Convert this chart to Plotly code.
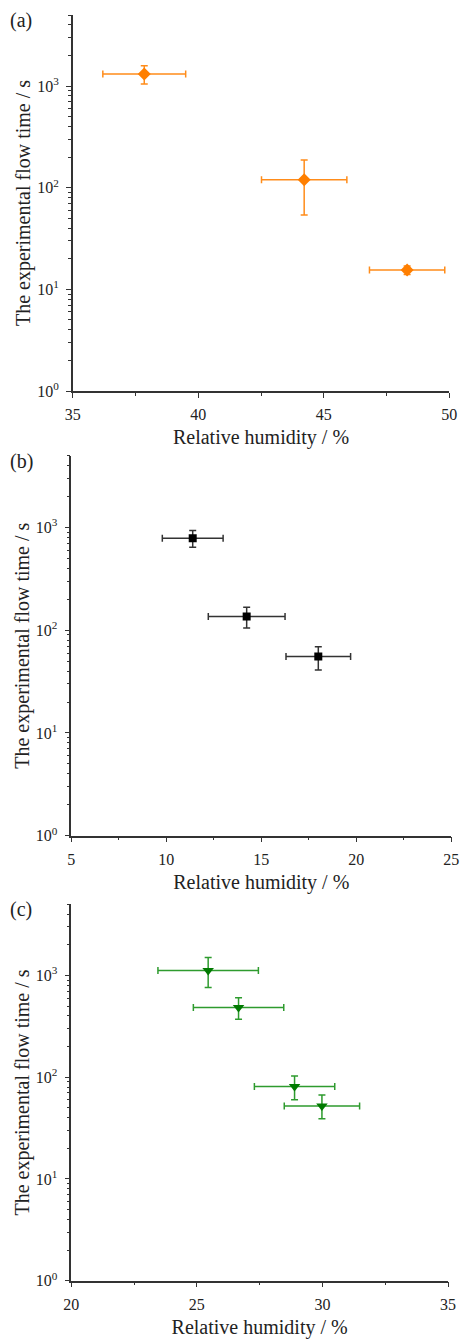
import plotly.graph_objects as go

# ---------------- data ----------------
# (a) orange diamonds
a_rh = [37.85, 44.22, 48.32]
a_rh_err = [1.65, 1.70, 1.50]
a_t = [1313, 120, 15.5]
a_t_plus = [271, 67, 1.5]
a_t_minus = [267, 66, 1.5]

# (b) black squares
b_rh = [11.39, 14.23, 18.0]
b_rh_err = [1.60, 2.02, 1.70]
b_t = [787, 136, 55.5]
b_t_plus = [148, 31, 13.5]
b_t_minus = [144, 31, 14.5]

# (c) green down-triangles
c_rh = [25.45, 26.66, 28.89, 29.98]
c_rh_err = [2.0, 1.80, 1.60, 1.50]
c_t = [1120, 485, 81, 52]
c_t_plus = [382, 119, 22, 15]
c_t_minus = [358, 113, 21, 13]

x_ranges = [[35, 50], [5, 25], [20, 35]]
panel_labels = ["(a)", "(b)", "(c)"]
y_tickvals = [1, 10, 100, 1000]
y_ticktext = ["10<sup>0</sup>", "10<sup>1</sup>", "10<sup>2</sup>", "10<sup>3</sup>"]
y_minor = [m * 10 ** e for e in range(0, 4) for m in range(2, 10) if m * 10 ** e <= 5000]

x_title = "Relative humidity / %"
y_title = "The experimental flow time / s"

FONT = "Liberation Serif, Times New Roman, serif"
W, H = 461, 1340

# panel pixel boxes: (left, right, top, bottom)
boxes = [(72.7, 449.3, 15, 391), (71.3, 451.3, 455.7, 835.7), (71.3, 448, 904.3, 1280.7)]

series = [
    dict(x=a_rh, xe=a_rh_err, y=a_t, yp=a_t_plus, ym=a_t_minus,
         sym="diamond", size=10, mcol="#FF7F00", ecol="#FF8C1A"),
    dict(x=b_rh, xe=b_rh_err, y=b_t, yp=b_t_plus, ym=b_t_minus,
         sym="square", size=8, mcol="#000000", ecol="#333333"),
    dict(x=c_rh, xe=c_rh_err, y=c_t, yp=c_t_plus, ym=c_t_minus,
         sym="triangle-down", size=10, mcol="#007A00", ecol="#2E9B2E"),
]

fig = go.Figure()
layout = dict(
    width=W, height=H,
    margin=dict(l=0, r=0, t=0, b=0),
    paper_bgcolor="white", plot_bgcolor="white",
    showlegend=False,
    font=dict(family=FONT, color="#222222"),
    annotations=[],
)

for i, s in enumerate(series):
    n = "" if i == 0 else str(i + 1)
    fig.add_trace(go.Scatter(
        x=s["x"], y=s["y"], mode="markers",
        marker=dict(symbol=s["sym"], size=s["size"], color=s["mcol"],
                    line=dict(width=0)),
        error_x=dict(type="data", array=s["xe"], color=s["ecol"], thickness=1.5, width=3.5),
        error_y=dict(type="data", array=s["yp"], arrayminus=s["ym"], color=s["ecol"],
                     thickness=1.5, width=3.5),
        xaxis="x" + n, yaxis="y" + n,
    ))
    l, r, t, b = boxes[i]
    axline = dict(showline=True, linecolor="#333333", linewidth=1.5, mirror=False,
                  showgrid=False, zeroline=False, ticks="outside", ticklen=5,
                  tickwidth=1.2, tickcolor="#333333", automargin=False)
    layout["xaxis" + n] = dict(
        domain=[l / W, r / W], anchor="y" + n,
        range=x_ranges[i], dtick=5, tick0=0,
        minor=dict(ticks="outside", ticklen=3, dtick=2.5, tick0=0, tickcolor="#333333",
                   tickwidth=1.2, showgrid=False),
        tickfont=dict(family=FONT, size=16, color="#222222"),
        ticklabelstandoff=3,
        title=dict(text=x_title, font=dict(family=FONT, size=20, color="#222222"), standoff=8),
        **axline,
    )
    layout["yaxis" + n] = dict(
        domain=[1 - b / H, 1 - t / H], anchor="x" + n,
        type="log", range=[0, 3.699],
        tickmode="array", tickvals=y_tickvals, ticktext=y_ticktext,
        minor=dict(ticks="outside", ticklen=3, tickmode="array", tickvals=y_minor,
                   tickcolor="#333333", tickwidth=1.2, showgrid=False),
        tickfont=dict(family=FONT, size=16, color="#222222"),
        ticklabelstandoff=4,
        title=dict(text=y_title, font=dict(family=FONT, size=20, color="#222222"), standoff=1),
        **axline,
    )
    layout["annotations"].append(dict(
        text=panel_labels[i], x=8 / W, y=1 - (t - 8) / H, xref="paper", yref="paper",
        xanchor="left", yanchor="top", showarrow=False,
        font=dict(family=FONT, size=20, color="#222222"),
    ))

fig.update_layout(**layout)
fig.write_html(
    "out.html",
    config={"displayModeBar": False},
    post_script="document.body.style.margin='0';document.body.style.overflow='hidden';",
)
